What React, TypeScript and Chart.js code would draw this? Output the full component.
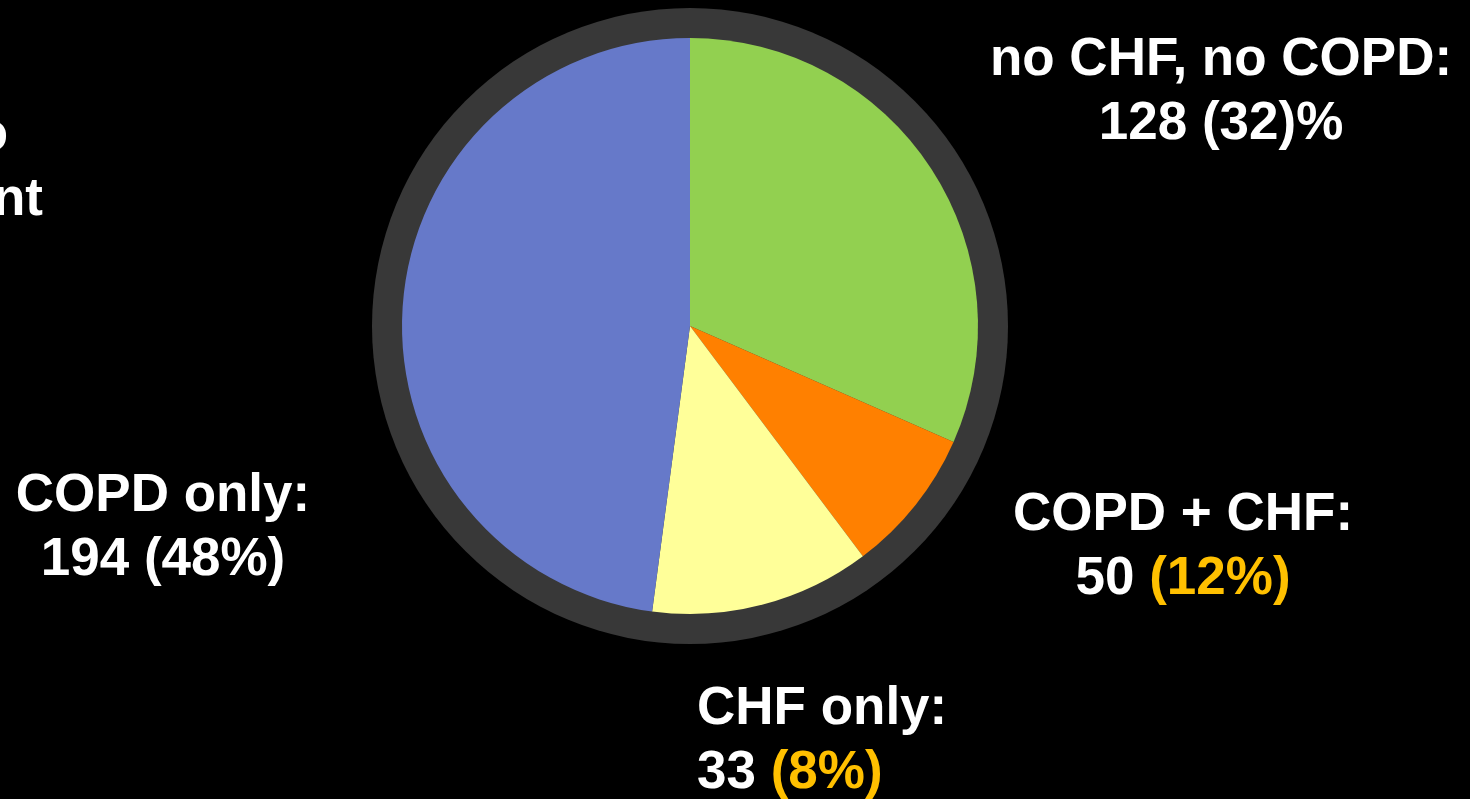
import React, { useEffect, useRef } from "react";
import { Chart, registerables } from "chart.js";

Chart.register(...registerables);

// Patient groups, drawn clockwise from 12 o'clock
const categories = ["no CHF, no COPD", "CHF only", "COPD + CHF", "COPD only"];
const counts = [128, 33, 50, 194];
const percentLabels = ["(32)%", "(8%)", "(12%)", "(48%)"];
const percentHighlighted = [false, true, true, false];
const sliceColors = ["#92D050", "#FF8000", "#FFFF99", "#6679C9"];

// Where each two-line annotation sits: anchor x, alignment, first baseline
const labelPlacement = [
  { x: 1221, align: "center", y: 75 },
  { x: 697, align: "left", y: 724 },
  { x: 1183, align: "center", y: 530 },
  { x: 163, align: "center", y: 511 },
];

// Fragments of a text block running off the left edge
const leftEdgeText = [
  { text: "o", x: 8, y: 150 },
  { text: "nt", x: 43, y: 215 },
];

const LINE_GAP = 64;
const FONT = "bold 53px 'Liberation Sans', Arial, sans-serif";
const WHITE = "#FFFFFF";
const GOLD = "#FFC000";
const RING = "#383838";
const RING_WIDTH = 30;

const ringPlugin = {
  id: "outerRing",
  beforeDatasetsDraw(chart: any) {
    const arc = chart.getDatasetMeta(0).data[0];
    if (!arc) return;
    const { x, y, outerRadius } = arc.getProps(["x", "y", "outerRadius"], true);
    const ctx = chart.ctx;
    ctx.save();
    ctx.beginPath();
    ctx.arc(x, y, outerRadius + RING_WIDTH, 0, Math.PI * 2);
    ctx.fillStyle = RING;
    ctx.fill();
    ctx.restore();
  },
};

const labelPlugin = {
  id: "groupLabels",
  afterDraw(chart: any) {
    const ctx = chart.ctx;
    ctx.save();
    ctx.font = FONT;
    ctx.textBaseline = "alphabetic";

    categories.forEach((name, i) => {
      const p = labelPlacement[i];
      const line1 = `${name}:`;
      const countPart = `${counts[i]} `;
      const pctPart = percentLabels[i];

      // first line
      ctx.fillStyle = WHITE;
      ctx.textAlign = p.align;
      ctx.fillText(line1, p.x, p.y);

      // second line: count in white, share possibly highlighted
      const w1 = ctx.measureText(countPart).width;
      const w2 = ctx.measureText(pctPart).width;
      const total = w1 + w2;
      const startX = p.align === "center" ? p.x - total / 2 : p.x;
      const y2 = p.y + LINE_GAP;
      ctx.textAlign = "left";
      ctx.fillStyle = WHITE;
      ctx.fillText(countPart, startX, y2);
      ctx.fillStyle = percentHighlighted[i] ? GOLD : WHITE;
      ctx.fillText(pctPart, startX + w1, y2);
    });

    ctx.fillStyle = WHITE;
    ctx.textAlign = "right";
    leftEdgeText.forEach((t) => ctx.fillText(t.text, t.x, t.y));
    ctx.restore();
  },
};

export default function App() {
  const canvasRef = useRef<HTMLCanvasElement | null>(null);

  useEffect(() => {
    const canvas = canvasRef.current;
    if (!canvas) return;
    const chart = new Chart(canvas, {
      type: "pie",
      data: {
        labels: categories,
        datasets: [
          {
            data: counts,
            backgroundColor: sliceColors,
            borderWidth: 0,
          },
        ],
      },
      options: {
        responsive: false,
        animation: false,
        devicePixelRatio: 1,
        radius: 288,
        layout: { padding: { left: 0, right: 90, top: 0, bottom: 147 } },
        plugins: {
          legend: { display: false },
          tooltip: { enabled: false },
        },
      },
      plugins: [ringPlugin, labelPlugin],
    });
    return () => chart.destroy();
  }, []);

  return (
    <div
      style={{
        position: "fixed",
        left: 0,
        top: 0,
        width: 1470,
        height: 799,
        background: "#000000",
      }}
    >
      <canvas ref={canvasRef} width={1470} height={799} style={{ display: "block" }} />
    </div>
  );
}
